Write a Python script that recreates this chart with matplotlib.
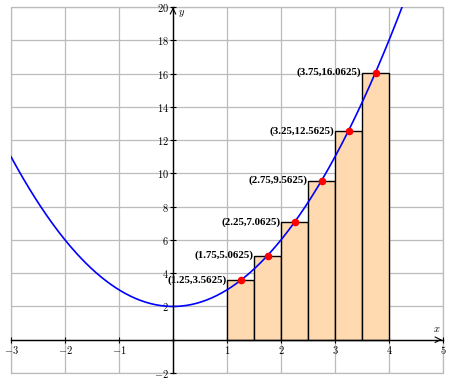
import numpy as np
import matplotlib
matplotlib.use("Agg")
import matplotlib.pyplot as plt
from matplotlib.ticker import FuncFormatter

# f(x) = x^2 + 2
coeffs = [1, 0, 2]
mids = [1.25, 1.75, 2.25, 2.75, 3.25, 3.75]
heights = [3.5625, 5.0625, 7.0625, 9.5625, 12.5625, 16.0625]
width = 0.5
labels = ["(1.25,3.5625)", "(1.75,5.0625)", "(2.25,7.0625)",
          "(2.75,9.5625)", "(3.25,12.5625)", "(3.75,16.0625)"]

plt.rcParams['mathtext.fontset'] = 'cm'
plt.rcParams['font.family'] = 'serif'
plt.rcParams['font.serif'] = ['DejaVu Serif']

fig = plt.figure(figsize=(4.5, 3.81), dpi=100)
ax = fig.add_axes([11 / 450, 8 / 381, 432 / 450, 366 / 381])

ax.set_xlim(-3, 5)
ax.set_ylim(-2, 20)

# grid
ax.set_xticks(np.arange(-3, 6, 1))
ax.set_yticks(np.arange(-2, 21, 2))
ax.grid(True, color='#bbbbbb', lw=0.9)
ax.set_axisbelow(True)

for s in ['top', 'right']:
    ax.spines[s].set_visible(False)
ax.spines['left'].set_position('zero')
ax.spines['bottom'].set_position('zero')
ax.spines['left'].set_linewidth(1.0)
ax.spines['bottom'].set_linewidth(1.0)
ax.spines['left'].set_zorder(5)
ax.spines['bottom'].set_zorder(5)

# outer box in gray
ax.plot([-3, 5, 5, -3, -3], [-2, -2, 20, 20, -2], color='#bbbbbb', lw=0.9,
        clip_on=False, zorder=0)

# bars
ax.bar(mids, heights, width=width, color='#ffdab0', edgecolor='black',
       lw=1.0, zorder=2)

# curve
xs = np.linspace(-3, 4.3, 400)
ax.plot(xs, np.polyval(coeffs, xs), color='blue', lw=1.2, zorder=3)

# midpoints
ax.scatter(mids, heights, s=20, color='red', zorder=4)
for m, h, t in zip(mids, heights, labels):
    ax.annotate(t, (m, h), xytext=(-10, 0), textcoords='offset points',
                ha='right', va='center', fontsize=7.8, fontweight='bold',
                family='Liberation Serif', zorder=6)

def fmt(v, pos):
    if v == 0:
        return ""
    return r"$%d$" % v

ax.xaxis.set_major_formatter(FuncFormatter(fmt))
ax.yaxis.set_major_formatter(FuncFormatter(fmt))
ax.tick_params(axis='both', direction='inout', length=4, width=0.8,
               labelsize=7.5, pad=1)

# arrows
ax.annotate("", xy=(5.03, 0), xytext=(4.9, 0),
            arrowprops=dict(arrowstyle='->', lw=0.8, color='black'),
            annotation_clip=False)
ax.annotate("", xy=(0, 20.15), xytext=(0, 19.8),
            arrowprops=dict(arrowstyle='->', lw=0.8, color='black'),
            annotation_clip=False)

ax.text(4.88, 0.35, r"$x$", fontsize=7.5, ha='center', va='bottom')
ax.text(0.1, 19.6, r"$y$", fontsize=7.5, ha='left', va='center')

fig.savefig("out.png", dpi=100)
